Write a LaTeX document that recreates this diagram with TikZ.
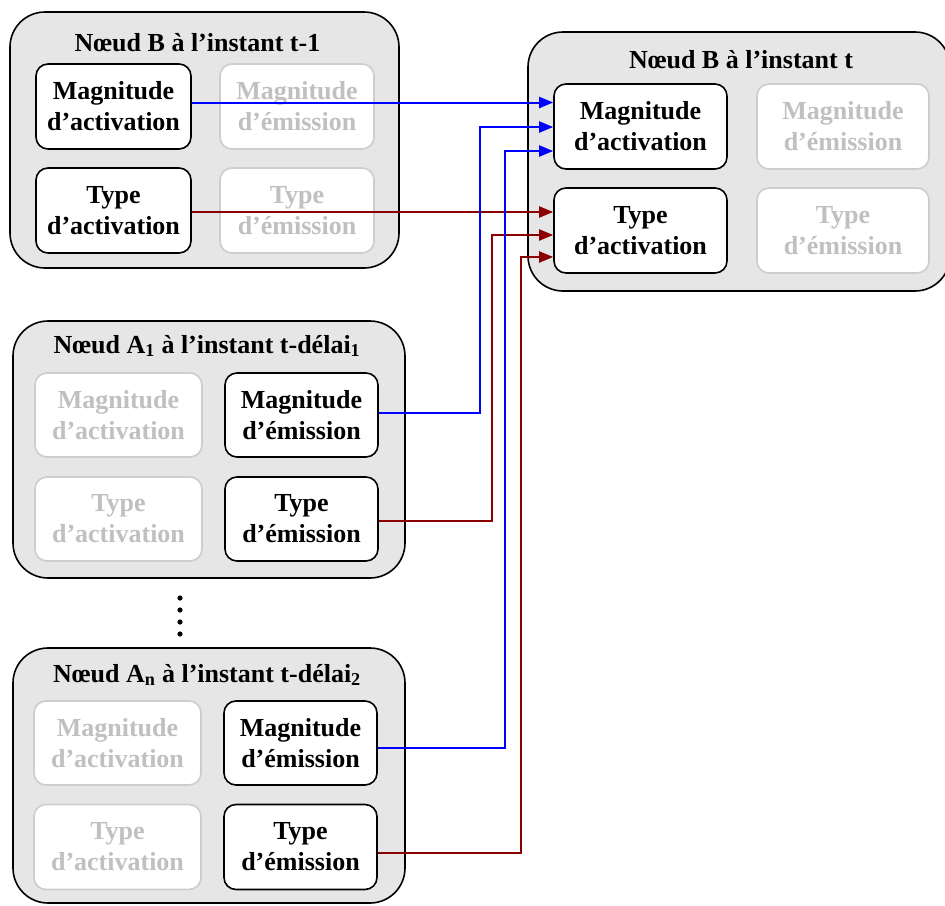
\documentclass[tikz,border=0pt]{standalone}
\usepackage{fontspec}
\setmainfont{Liberation Serif}
\usetikzlibrary{arrows.meta}
\definecolor{boxfill}{RGB}{230,230,230}
\definecolor{ghost}{RGB}{192,192,192}
\definecolor{ghostline}{RGB}{205,205,205}
\definecolor{darkred}{RGB}{139,0,0}
\begin{document}
\begin{tikzpicture}[x=1pt,y=-1pt,
  outerbox/.style={draw=black, line width=1.6pt, fill=boxfill, rounded corners=35pt, inner sep=0pt},
  cell/.style={draw=black, line width=1.6pt, fill=white, rounded corners=12pt, align=center,
    font=\bfseries\fontsize{26}{31}\selectfont, inner sep=0pt},
  ghostcell/.style={cell, draw=ghostline, text=ghost},
  boxtitle/.style={font=\bfseries\fontsize{26}{31}\selectfont, inner sep=0pt},
  conn/.style={line width=2pt, -{Triangle[length=14pt,width=11pt]}},
  bluecon/.style={conn, draw=blue},
  redcon/.style={conn, draw=darkred}]
\useasboundingbox (0,0) rectangle (945,905);

% outer boxes
\node[outerbox, minimum width=389pt, minimum height=256pt] (B1) at (204.5,140) {};
\node[outerbox, minimum width=422pt, minimum height=259pt] (BT) at (739,161.5) {};
\node[outerbox, minimum width=392pt, minimum height=257pt] (A1) at (209,449.5) {};
\node[outerbox, minimum width=392pt, minimum height=255pt] (AN) at (209,775.5) {};

% titles
\node[boxtitle] (B1t) at (197.5,43) {Nœud B à l’instant t-1};
\node[boxtitle] (BTt) at (741,60) {Nœud B à l’instant t};
\node[boxtitle] (A1t) at (207,346) {Nœud A\textsubscript{1} à l’instant t-délai\textsubscript{1}};
\node[boxtitle] (ANt) at (207,675) {Nœud A\textsubscript{n} à l’instant t-délai\textsubscript{2}};

% B at t-1
\node[cell, minimum width=155pt, minimum height=85pt] (b1ma) at (113.5,106.5) {Magnitude\\d’activation};
\node[ghostcell, minimum width=154pt, minimum height=85pt] (b1me) at (297,106.5) {Magnitude\\d’émission};
\node[cell, minimum width=155pt, minimum height=85pt] (b1ta) at (113.5,210.5) {Type\\d’activation};
\node[ghostcell, minimum width=154pt, minimum height=85pt] (b1te) at (297,210.5) {Type\\d’émission};

% B at t
\node[cell, minimum width=173pt, minimum height=85pt] (tma) at (640.5,126.5) {Magnitude\\d’activation};
\node[ghostcell, minimum width=172pt, minimum height=85pt] (tme) at (843,126.5) {Magnitude\\d’émission};
\node[cell, minimum width=173pt, minimum height=85pt] (tta) at (640.5,230.5) {Type\\d’activation};
\node[ghostcell, minimum width=172pt, minimum height=85pt] (tte) at (843,230.5) {Type\\d’émission};

% A1
\node[ghostcell, minimum width=167pt, minimum height=84pt] (a1ma) at (118.5,415) {Magnitude\\d’activation};
\node[cell, minimum width=153pt, minimum height=84pt] (a1me) at (301.5,415) {Magnitude\\d’émission};
\node[ghostcell, minimum width=167pt, minimum height=84pt] (a1ta) at (118.5,519) {Type\\d’activation};
\node[cell, minimum width=153pt, minimum height=84pt] (a1te) at (301.5,519) {Type\\d’émission};

% An
\node[ghostcell, minimum width=167pt, minimum height=84pt] (anma) at (117.5,743) {Magnitude\\d’activation};
\node[cell, minimum width=153pt, minimum height=84pt] (anme) at (300.5,743) {Magnitude\\d’émission};
\node[ghostcell, minimum width=167pt, minimum height=85pt] (anta) at (117.5,847) {Type\\d’activation};
\node[cell, minimum width=153pt, minimum height=85pt] (ante) at (300.5,847) {Type\\d’émission};

% dots
\foreach \yy in {598,610,622,634} \fill (180,\yy) circle (2.6pt);

% connectors
\draw[bluecon] (b1ma.east |- 0,102.5) -- (tma.west |- 0,102.5);
\draw[redcon] (b1ta.east |- 0,212) -- (tta.west |- 0,212);
\draw[bluecon] (a1me.east |- 0,413) -| (480,127) -- (tma.west |- 0,127);
\draw[redcon] (a1te.east |- 0,521) -| (492,235) -- (tta.west |- 0,235);
\draw[bluecon] (anme.east |- 0,748) -| (505,151) -- (tma.west |- 0,151);
\draw[redcon] (ante.east |- 0,853) -| (521,257) -- (tta.west |- 0,257);
\end{tikzpicture}
\end{document}
